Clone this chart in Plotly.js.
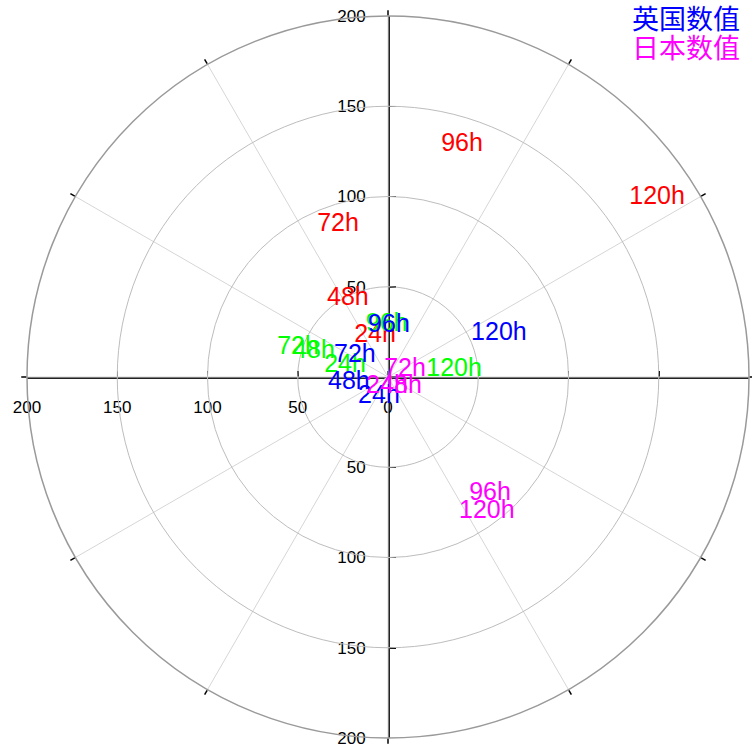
<!DOCTYPE html>
<html>
<head>
<meta charset="utf-8">
<script src="https://cdn.plot.ly/plotly-3.0.1.min.js"></script>
<style>html,body{margin:0;padding:0;background:#fff;}#chart{width:752px;height:745px;}</style>
</head>
<body>
<div id="chart"></div>
<script>
// Forecast hour labels
const hours = ['24h', '48h', '72h', '96h', '120h'];

// Red series (radius, angle in degrees)
const redR = [23.8, 48.6, 88.6, 134.9, 179.0];
const redTheta = [107.6, 117.2, 108.2, 72.3, 33.6];

// Green series
const greenR = [24.6, 43.3, 52.4, 29.0, 36.8];
const greenTheta = [165.6, 161.3, 162.1, 91.5, 6.1];

// Blue series (英国数值)
const blueR = [12.1, 21.9, 21.7, 28.3, 65.9];
const blueTheta = [245.6, 188.7, 147.6, 88.9, 21.2];

// Magenta series (日本数值)
const magentaR = [5.5, 9.1, 10.2, 86.0, 92.7];
const magentaTheta = [264.0, 322.6, 22.5, 311.1, 306.2];

const legendNames = ['英国数值', '日本数值'];
const legendColors = ['#0000ff', '#ff00ff'];

// Axis ticks
const axisTickVals = [-200, -150, -100, -50, 0, 50, 100, 150, 200];
const xTickText = ['200', '150', '100', '50', '0', '', '', '', ''];
const yTickText = ['200', '150', '100', '50', '', '50', '100', '150', '200'];

const W = 752, H = 745;
const cx = 388, cy = 377, R = 361;
const dx = [(cx - R) / W, (cx + R) / W];
const dy = [(H - cy - R) / H, (H - cy + R) / H];

const labelFont = {family: 'Liberation Sans, Arial, sans-serif', size: 25};

function textTrace(r, theta, color) {
  return {
    type: 'scatterpolar', r: r, theta: theta, text: hours,
    mode: 'text', textposition: 'middle center',
    textfont: Object.assign({color: color}, labelFont),
    hoverinfo: 'skip', showlegend: false, subplot: 'polar'
  };
}

const data = [
  {type: 'scatter', x: [], y: [], xaxis: 'x', yaxis: 'y', mode: 'none', hoverinfo: 'skip', showlegend: false},
  textTrace(redR, redTheta, '#ff0000'),
  textTrace(greenR, greenTheta, '#00ff00'),
  textTrace(blueR, blueTheta, '#0000ff'),
  textTrace(magentaR, magentaTheta, '#ff00ff')
];

const tickFont = {family: 'Liberation Sans, Arial, sans-serif', size: 17, color: '#000'};

const layout = {
  width: W, height: H,
  margin: {l: 0, r: 0, t: 0, b: 0},
  paper_bgcolor: '#fff', plot_bgcolor: 'rgba(0,0,0,0)',
  showlegend: false,
  polar: {
    domain: {x: dx, y: dy},
    bgcolor: 'rgba(0,0,0,0)',
    radialaxis: {
      range: [0, 200], tickvals: [50, 100, 150], showticklabels: false,
      ticks: '', showline: false, gridcolor: '#bdbdbd', gridwidth: 1
    },
    angularaxis: {
      rotation: 0, direction: 'counterclockwise',
      tickmode: 'linear', tick0: 0, dtick: 30,
      showticklabels: false, ticks: 'outside', ticklen: 5, tickcolor: '#000', tickwidth: 1.5,
      showline: true, linecolor: '#9a9a9a', linewidth: 1.5,
      gridcolor: '#d6d6d6', gridwidth: 1
    }
  },
  xaxis: {
    domain: dx, range: [-200, 200], anchor: 'free', position: (H - cy) / H,
    showline: true, linecolor: '#222', linewidth: 1.5,
    ticks: 'inside', ticklen: 6, tickwidth: 1.5, tickcolor: '#000',
    tickmode: 'array', tickvals: axisTickVals, ticktext: xTickText,
    tickfont: tickFont, ticklabelstandoff: 14, ticklabeloverflow: 'allow',
    showgrid: false, zeroline: false, fixedrange: true
  },
  yaxis: {
    domain: dy, range: [-200, 200], anchor: 'free', position: cx / W,
    showline: true, linecolor: '#222', linewidth: 1.5,
    ticks: 'inside', ticklen: 6, tickwidth: 1.5, tickcolor: '#000',
    tickmode: 'array', tickvals: axisTickVals, ticktext: yTickText,
    tickfont: tickFont, ticklabelstandoff: 19, ticklabeloverflow: 'allow',
    showgrid: false, zeroline: false, fixedrange: true
  },
  annotations: legendNames.map((name, i) => ({
    text: name, xref: 'paper', yref: 'paper',
    x: 741 / W, y: (H - (17 + 29 * i)) / H, xanchor: 'right', yanchor: 'middle',
    showarrow: false, borderpad: 0,
    font: {family: 'Noto Sans CJK SC', size: 27, color: legendColors[i]}
  }))
};

Plotly.newPlot('chart', data, layout, {staticPlot: true, displayModeBar: false});
</script>
</body>
</html>
